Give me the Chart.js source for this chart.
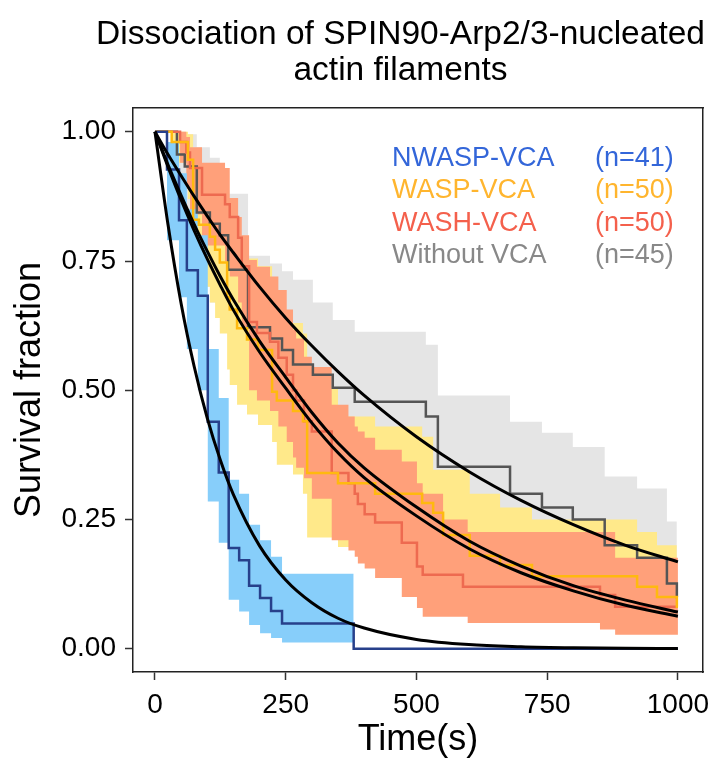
<!DOCTYPE html>
<html><head><meta charset="utf-8">
<script src="https://cdn.jsdelivr.net/npm/chart.js@4.4.1/dist/chart.umd.min.js"></script>
<style>
html,body{margin:0;padding:0;background:#fff;}
#wrap{position:relative;width:725px;height:762px;font-family:"Liberation Sans",Arial,Helvetica,sans-serif;}
#c{position:absolute;left:0;top:0;}
#title{position:absolute;left:76px;top:15px;width:649px;text-align:center;font-size:33.5px;line-height:36px;color:#000;}
.lg{position:absolute;font-size:27px;line-height:27px;white-space:nowrap;}
</style></head><body>
<div id="wrap">
<canvas id="c" width="725" height="762"></canvas>
<div id="title">Dissociation of SPIN90-Arp2/3-nucleated<br>actin filaments</div>
<div id="legend"></div>
</div>
<script>
const xTicks = [0, 250, 500, 750, 1000];
const yTicks = [0, 0.25, 0.5, 0.75, 1];

const groupNames  = ['NWASP-VCA', 'WASP-VCA', 'WASH-VCA', 'Without VCA'];
const groupCounts = ['(n=41)', '(n=50)', '(n=50)', '(n=45)'];

// NWASP-VCA
const nwaspTime = [0, 23, 46, 61, 82, 101, 122, 141, 161, 180, 201, 222, 243, 380, 1000];
const nwaspSurv = [1, 0.927, 0.829, 0.732, 0.683, 0.439, 0.341, 0.195, 0.171, 0.122, 0.098, 0.073, 0.049, 0, 0];
const nwaspBandTime = [0, 23, 46, 61, 82, 101, 122, 141, 161, 180, 201, 222, 243, 380];
const nwaspUpper = [1, 0.98, 0.92, 0.85, 0.80, 0.58, 0.485, 0.327, 0.30, 0.24, 0.21, 0.178, 0.145, 0.145];
const nwaspLower = [1, 0.79, 0.68, 0.58, 0.50, 0.285, 0.205, 0.095, 0.072, 0.046, 0.03, 0.021, 0.012, 0.012];

// WASP-VCA
const waspTime = [0, 32, 63, 73, 84, 105, 115, 124, 138, 143, 157, 176, 197, 224, 233, 264, 283, 291, 350, 421, 511, 532, 551, 602, 660, 721, 922, 960, 998, 1000];
const waspSurv = [1, 0.98, 0.946, 0.83, 0.82, 0.797, 0.772, 0.747, 0.68, 0.656, 0.62, 0.598, 0.578, 0.497, 0.48, 0.46, 0.44, 0.34, 0.32, 0.30, 0.282, 0.263, 0.22, 0.18, 0.162, 0.14, 0.12, 0.10, 0.081, 0.081];
const waspBandTime = [0, 32, 63, 73, 84, 105, 115, 124, 138, 143, 157, 176, 197, 224, 233, 264, 283, 291, 350, 421, 511, 532, 551, 602, 660, 721, 922, 960, 998];
const waspUpper = [1, 1, 0.995, 0.94, 0.93, 0.915, 0.895, 0.875, 0.82, 0.80, 0.775, 0.755, 0.74, 0.665, 0.65, 0.63, 0.61, 0.505, 0.449, 0.43, 0.41, 0.346, 0.346, 0.30, 0.273, 0.25, 0.226, 0.20, 0.20];
const waspLower = [1, 0.94, 0.87, 0.71, 0.70, 0.67, 0.64, 0.61, 0.54, 0.51, 0.472, 0.453, 0.433, 0.40, 0.356, 0.337, 0.30, 0.215, 0.197, 0.18, 0.165, 0.15, 0.115, 0.085, 0.075, 0.06, 0.05, 0.04, 0.03];

// WASH-VCA
const washTime = [0, 48, 60, 67, 90, 134, 143, 159, 166, 180, 195, 220, 236, 252, 264, 270, 285, 300, 338, 370, 382, 388, 401, 421, 472, 501, 512, 589, 851, 880, 1000];
const washSurv = [1, 0.98, 0.96, 0.93, 0.878, 0.86, 0.835, 0.795, 0.74, 0.632, 0.611, 0.594, 0.563, 0.53, 0.50, 0.48, 0.44, 0.42, 0.34, 0.32, 0.30, 0.28, 0.26, 0.244, 0.205, 0.159, 0.143, 0.12, 0.104, 0.081, 0.081];
const washBandTime = [0, 48, 60, 67, 90, 134, 143, 159, 166, 180, 195, 220, 236, 252, 264, 270, 285, 300, 338, 370, 382, 388, 401, 421, 472, 501, 512, 551, 598, 851, 880, 1000];
const washUpper = [1, 1, 0.99, 0.97, 0.94, 0.93, 0.872, 0.835, 0.80, 0.752, 0.739, 0.72, 0.694, 0.656, 0.617, 0.60, 0.565, 0.545, 0.472, 0.449, 0.43, 0.42, 0.408, 0.385, 0.362, 0.32, 0.30, 0.25, 0.226, 0.226, 0.176, 0.176];
const washLower = [1, 0.94, 0.89, 0.84, 0.78, 0.75, 0.72, 0.67, 0.62, 0.50, 0.48, 0.46, 0.43, 0.40, 0.37, 0.35, 0.33, 0.29, 0.21, 0.19, 0.178, 0.165, 0.155, 0.137, 0.10, 0.079, 0.062, 0.062, 0.05, 0.037, 0.027, 0.027];

// Without VCA
const greyTime = [0, 42, 57, 80, 105, 124, 140, 178, 220, 243, 264, 302, 340, 382, 518, 541, 679, 740, 799, 860, 922, 979, 998, 1000];
const greySurv = [1, 0.956, 0.933, 0.844, 0.822, 0.80, 0.733, 0.622, 0.60, 0.578, 0.55, 0.53, 0.505, 0.478, 0.449, 0.352, 0.30, 0.273, 0.25, 0.20, 0.176, 0.126, 0.10, 0.10];
const greyBandTime = [0, 42, 57, 80, 105, 124, 140, 178, 220, 243, 264, 302, 340, 382, 518, 541, 679, 740, 799, 860, 922, 979, 998];
const greyUpper = [1, 1, 0.995, 0.97, 0.95, 0.93, 0.88, 0.76, 0.745, 0.73, 0.714, 0.67, 0.636, 0.613, 0.588, 0.49, 0.439, 0.418, 0.39, 0.333, 0.31, 0.246, 0.246];
const greyLower = [1, 0.84, 0.81, 0.70, 0.67, 0.65, 0.58, 0.47, 0.45, 0.42, 0.40, 0.38, 0.35, 0.33, 0.30, 0.21, 0.165, 0.145, 0.125, 0.09, 0.075, 0.045, 0.03];

// Fitted curves
const fitTime    = [0, 25, 50, 75, 100, 125, 150, 200, 250, 300, 350, 400, 500, 600, 700, 800, 900, 1000];
const nwaspFit   = [1, 0.82, 0.668, 0.546, 0.446, 0.365, 0.298, 0.199, 0.133, 0.089, 0.059, 0.040, 0.018, 0.008, 0.004, 0.002, 0.001, 0.0005];
const waspFit    = [1, 0.936, 0.877, 0.821, 0.769, 0.72, 0.675, 0.595, 0.525, 0.457, 0.398, 0.35, 0.274, 0.209, 0.16, 0.122, 0.094, 0.071];
const washFit    = [1, 0.932, 0.868, 0.809, 0.754, 0.703, 0.655, 0.574, 0.504, 0.437, 0.379, 0.331, 0.257, 0.194, 0.147, 0.112, 0.084, 0.063];
const withoutFit = [1, 0.956, 0.915, 0.875, 0.837, 0.80, 0.766, 0.70, 0.64, 0.586, 0.536, 0.49, 0.41, 0.343, 0.287, 0.24, 0.20, 0.168];

const lineColors  = ['#27408B', '#FFB90F', '#EE6A50', '#555555'];
const bandColors  = ['#87CEFA', '#FFE98A', '#FFA07A', '#E5E5E5'];
const textColors  = ['#3366D9', '#FFB52E', '#F4604C', '#888888'];

const F = '"Liberation Sans", Arial, Helvetica, sans-serif';
const pts = (t, s) => t.map((v, i) => ({x: v, y: s[i]}));

const datasets = [];
// fits (top)
[nwaspFit, waspFit, washFit, withoutFit].forEach(f => datasets.push({
  data: pts(fitTime, f), borderColor: '#000', borderWidth: 3, pointRadius: 0,
  cubicInterpolationMode: 'monotone', fill: false, order: 0
}));
// KM step lines
[[nwaspTime, nwaspSurv], [waspTime, waspSurv], [washTime, washSurv], [greyTime, greySurv]].forEach((d, i) => datasets.push({
  data: pts(d[0], d[1]), borderColor: lineColors[i], borderWidth: 2.5, pointRadius: 0,
  stepped: true, fill: false, order: 1
}));
// confidence bands
const bands = [
  [nwaspBandTime, nwaspUpper, nwaspLower, 2],
  [washBandTime, washUpper, washLower, 3],
  [waspBandTime, waspUpper, waspLower, 4],
  [greyBandTime, greyUpper, greyLower, 5]
];
const bandColorIdx = [0, 2, 1, 3];
bands.forEach((b, k) => {
  const lowerIndex = datasets.length + 1;
  datasets.push({
    data: pts(b[0], b[1]), borderColor: 'rgba(0,0,0,0)', borderWidth: 0, pointRadius: 0,
    stepped: true, fill: {target: lowerIndex}, backgroundColor: bandColors[bandColorIdx[k]], order: b[3]
  });
  datasets.push({
    data: pts(b[0], b[2]), borderColor: 'rgba(0,0,0,0)', borderWidth: 0, pointRadius: 0,
    stepped: true, fill: false, order: b[3]
  });
});

new Chart(document.getElementById('c'), {
  type: 'line',
  data: {datasets},
  options: {
    responsive: false, animation: false, devicePixelRatio: 1,
    layout: {padding: {left: 0, right: 22, top: 108, bottom: 0}},
    plugins: {legend: {display: false}, tooltip: {enabled: false}, title: {display: false}},
    scales: {
      x: {
        type: 'linear', position: 'bottom', min: -42, max: 1048,
        afterBuildTicks: s => { s.ticks = xTicks.map(v => ({value: v})); },
        afterFit: s => { s.height = 90; },
        ticks: {font: {size: 28, family: F}, color: '#000', padding: 8, maxRotation: 0, autoSkip: false, callback: v => String(v)},
        grid: {display: true, drawOnChartArea: false, drawTicks: true, tickLength: 8, tickWidth: 1.5, tickColor: '#333'},
        border: {display: true, color: '#222', width: 1.5},
        title: {display: true, text: 'Time(s)', font: {size: 36, family: F}, color: '#000', padding: {top: 4, bottom: 0}}
      },
      y: {
        type: 'linear', position: 'left', min: -0.045, max: 1.046,
        afterBuildTicks: s => { s.ticks = yTicks.map(v => ({value: v})); },
        afterFit: s => { s.width = 133; },
        ticks: {font: {size: 28, family: F}, color: '#000', padding: 9, autoSkip: false, callback: v => Number(v).toFixed(2)},
        grid: {display: true, drawOnChartArea: false, drawTicks: true, tickLength: 8, tickWidth: 1.5, tickColor: '#333'},
        border: {display: true, color: '#222', width: 1.5},
        title: {display: true, text: 'Survival fraction', font: {size: 36, family: F}, color: '#000', padding: {top: 8, bottom: 0}}
      },
      x2: {
        type: 'linear', position: 'top', min: 0, max: 1,
        afterFit: s => { s.height = 0; },
        ticks: {display: false}, grid: {display: false, drawTicks: false},
        border: {display: true, color: '#222', width: 1.5}
      },
      y2: {
        type: 'linear', position: 'right', min: 0, max: 1,
        afterFit: s => { s.width = 0; },
        ticks: {display: false}, grid: {display: false, drawTicks: false},
        border: {display: true, color: '#222', width: 1.5}
      }
    }
  }
});

// legend (text only, two columns)
const legendTops = [144, 176, 209, 241];
const lg = document.getElementById('legend');
groupNames.forEach((n, i) => {
  const a = document.createElement('span');
  a.className = 'lg'; a.textContent = n;
  a.style.left = '392px'; a.style.top = legendTops[i] + 'px'; a.style.color = textColors[i];
  lg.appendChild(a);
  const b = document.createElement('span');
  b.className = 'lg'; b.textContent = groupCounts[i];
  b.style.left = '595px'; b.style.top = legendTops[i] + 'px'; b.style.color = textColors[i];
  lg.appendChild(b);
});
</script>
</body></html>
